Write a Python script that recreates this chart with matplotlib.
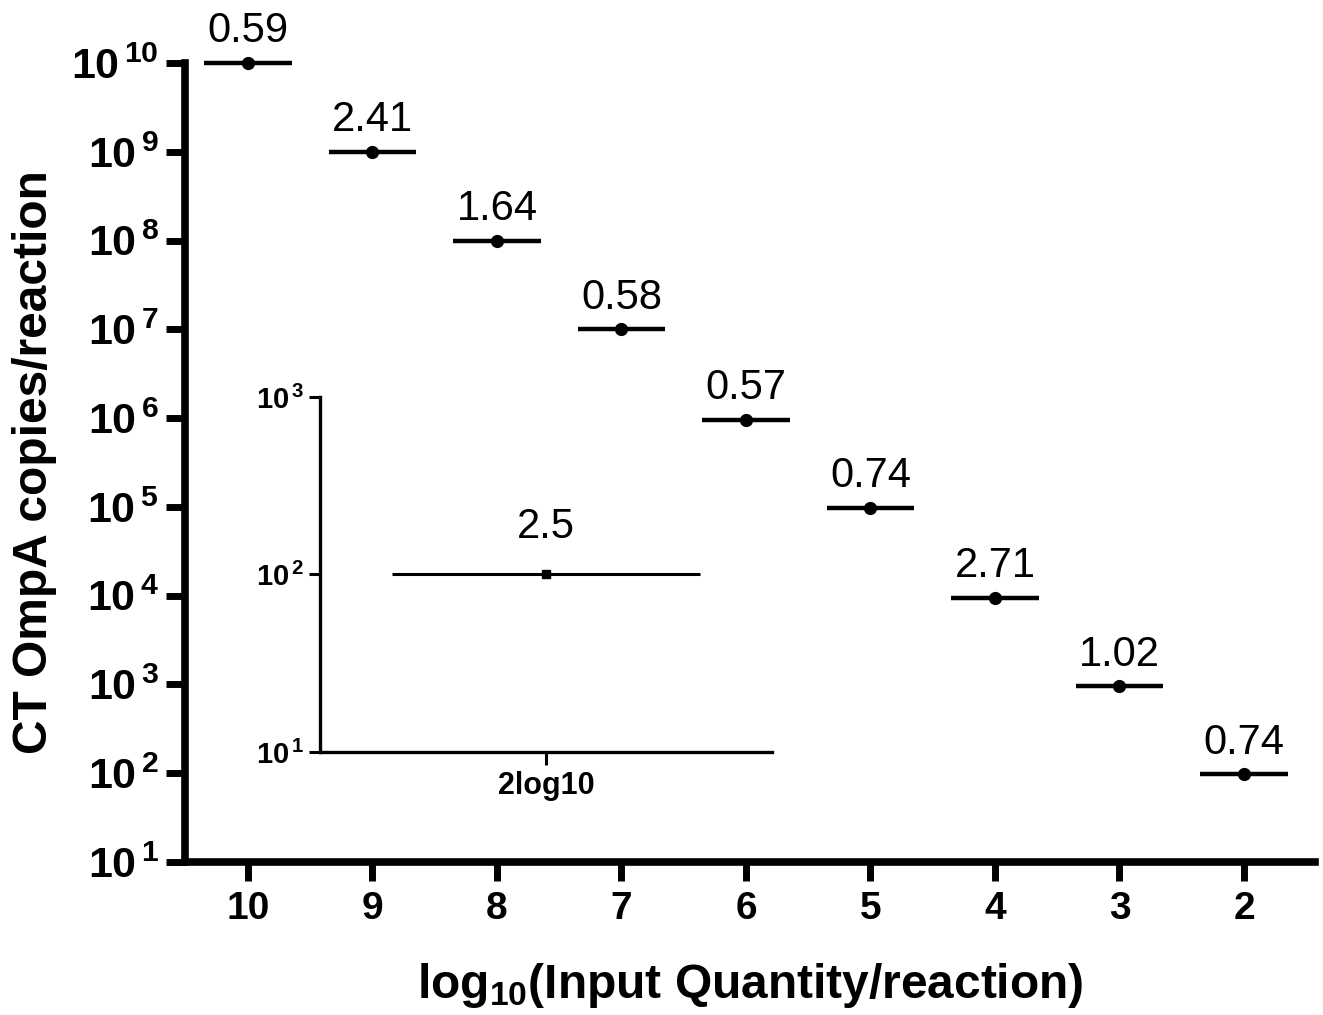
import matplotlib
matplotlib.use("Agg")
import matplotlib.pyplot as plt
import numpy as np

plt.rcParams['font.family'] = 'Liberation Sans'
plt.rcParams['mathtext.fontset'] = 'custom'
plt.rcParams['mathtext.rm'] = 'Liberation Sans'
plt.rcParams['mathtext.bf'] = 'Liberation Sans:bold'
plt.rcParams['mathtext.default'] = 'bf'

# main panel: input quantity (log10) vs measured copies
input_log = ['10', '9', '8', '7', '6', '5', '4', '3', '2']
copies = [1.0e10, 1.0e9, 1.0e8, 1.0e7, 9.5e5, 9.7e4, 9.5e3, 9.5e2, 9.7e1]
cv_labels = ['0.59', '2.41', '1.64', '0.58', '0.57', '0.74', '2.71', '1.02', '0.74']

# inset panel
inset_cat = ['2log10']
inset_copies = [1.0e2]
inset_cv = ['2.5']

main_ticks = [10**k for k in range(1, 11)]
inset_ticks = [10**k for k in range(1, 4)]

fig = plt.figure(figsize=(13.23, 10.15), dpi=100)
ax = fig.add_axes([0.1398, 0.1507, 0.8541, 0.7872])

x = np.arange(len(input_log))
ax.hlines(copies, x - 0.35, x + 0.35, color='black', lw=3.2, clip_on=False)
ax.plot(x, copies, 'o', color='black', ms=8.5, clip_on=False)
for xi, yi, lab in zip(x, copies, cv_labels):
    ax.annotate(lab, (xi, yi), xytext=(0, 15), textcoords='offset points',
                ha='center', va='baseline', fontsize=30)

ax.set_yscale('log')
ax.set_ylim(10, 1e10)
ax.set_xlim(-0.506, 8.57)
ax.set_yticks(main_ticks)
ax.set_yticklabels([r'$10^{\,%d}$' % k for k in range(1, 11)])
ax.minorticks_off()
ax.set_xticks(x)
ax.set_xticklabels(input_log, fontweight='bold')
ax.tick_params(axis='y', labelsize=31, width=5, length=14, pad=5)
ax.tick_params(axis='x', labelsize=28, width=5, length=14, pad=7)
for s in ['top', 'right']:
    ax.spines[s].set_visible(False)
for s in ['left', 'bottom']:
    ax.spines[s].set_linewidth(5.5)
ax.set_ylabel('CT OmpA copies/reaction', fontsize=34.5, fontweight='bold', labelpad=10)
ax.set_xlabel(r'log$_{10}$(Input Quantity/reaction)', fontsize=34.5, fontweight='bold', labelpad=24)

# inset
ins = fig.add_axes([0.2419, 0.2591, 0.3416, 0.3498])
xi = np.arange(len(inset_cat))
ins.hlines(inset_copies, xi - 0.68, xi + 0.68, color='black', lw=2.2)
ins.plot(xi, inset_copies, 's', color='black', ms=6)
for a, b, lab in zip(xi, inset_copies, inset_cv):
    ins.annotate(lab, (a, b), xytext=(0, 26), textcoords='offset points',
                 ha='center', va='baseline', fontsize=30)
ins.set_yscale('log')
ins.set_ylim(10, 1e3)
ins.set_xlim(-1, 1)
ins.set_yticks(inset_ticks)
ins.set_yticklabels([r'$10^{\,%d}$' % k for k in range(1, 4)])
ins.minorticks_off()
ins.set_xticks(xi)
ins.set_xticklabels(inset_cat, fontweight='bold')
ins.tick_params(axis='y', labelsize=21, width=2.2, length=8, pad=3)
ins.tick_params(axis='x', labelsize=22, width=2.2, length=9, pad=5)
for s in ['top', 'right']:
    ins.spines[s].set_visible(False)
for s in ['left', 'bottom']:
    ins.spines[s].set_linewidth(2.4)
ins.patch.set_alpha(0)

plt.savefig('out.png', dpi=100)
plt.close()
